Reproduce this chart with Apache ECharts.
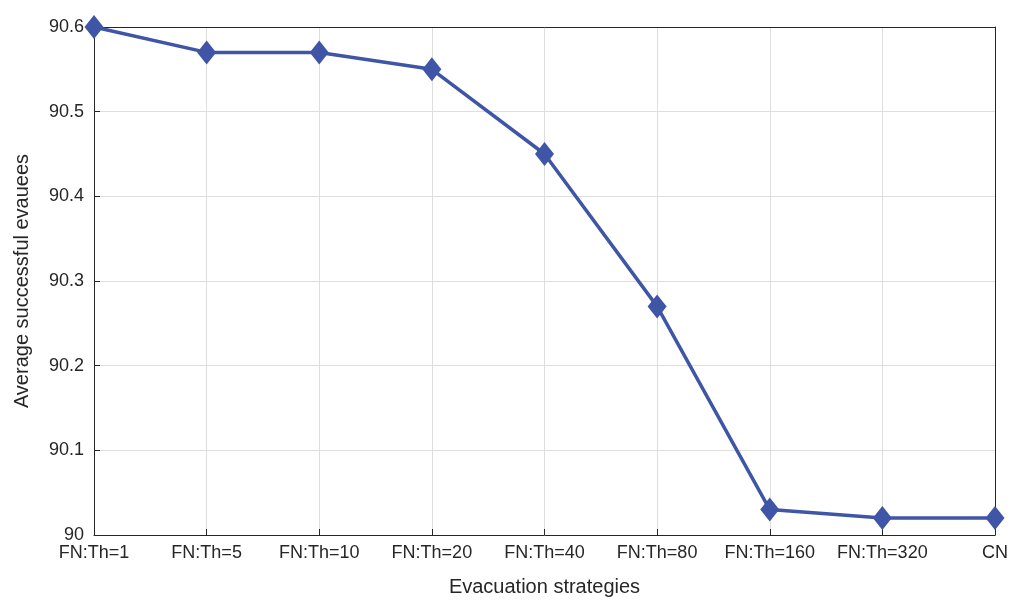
<!DOCTYPE html>
<html><head><meta charset="utf-8">
<script src="https://cdn.jsdelivr.net/npm/echarts@6/dist/echarts.min.js"></script>
<style>html,body{margin:0;padding:0;background:#fff}#c{width:1024px;height:611px}</style>
</head><body><div id="c"></div>
<script>
const categories = ['FN:Th=1','FN:Th=5','FN:Th=10','FN:Th=20','FN:Th=40','FN:Th=80','FN:Th=160','FN:Th=320','CN'];
const values = [90.6, 90.57, 90.57, 90.55, 90.45, 90.27, 90.03, 90.02, 90.02];
const yTicks = {min: 90, max: 90.6, interval: 0.1};
const chart = echarts.init(document.getElementById('c'));
const lbl = {color:'#262626', fontSize:18, fontFamily:'Liberation Sans, Arial'};
chart.setOption({
  animation:false,
  grid:{left:94, right:29, top:27, bottom:76},
  xAxis:[{type:'category', data:categories, boundaryGap:false,
    name:'Evacuation strategies', nameLocation:'middle', nameGap:42,
    nameTextStyle:{color:'#262626', fontSize:20, fontFamily:'Liberation Sans, Arial'},
    axisLine:{lineStyle:{color:'#262626'}}, axisTick:{inside:true, length:6, lineStyle:{color:'#262626'}},
    axisLabel:Object.assign({margin:9, interval:0}, lbl),
    splitLine:{show:true, lineStyle:{color:'#dedede'}}},
   {type:'category', data:categories, boundaryGap:false, position:'top',
    axisLine:{lineStyle:{color:'#262626'}}, axisTick:{show:false}, axisLabel:{show:false}}],
  yAxis:[{type:'value', min:yTicks.min, max:yTicks.max, interval:yTicks.interval,
    name:'Average successful evauees', nameLocation:'middle', nameGap:62,
    nameTextStyle:{color:'#262626', fontSize:20, fontFamily:'Liberation Sans, Arial'},
    axisLine:{show:true, lineStyle:{color:'#262626'}}, axisTick:{show:true, inside:true, length:6, lineStyle:{color:'#262626'}},
    axisLabel:Object.assign({margin:10, formatter:v=>String(+v.toFixed(1))}, lbl),
    splitLine:{show:true, lineStyle:{color:'#dedede'}}},
   {type:'value', min:yTicks.min, max:yTicks.max, interval:yTicks.interval, position:'right',
    axisLine:{show:true, lineStyle:{color:'#262626'}}, axisTick:{show:false}, axisLabel:{show:false}, splitLine:{show:false}}],
  series:[{type:'line', data:values, symbol:'diamond', symbolSize:[19,24],
    lineStyle:{color:'#3f55a6', width:3.5}, itemStyle:{color:'#3f55a6'}}]
});
</script></body></html>
